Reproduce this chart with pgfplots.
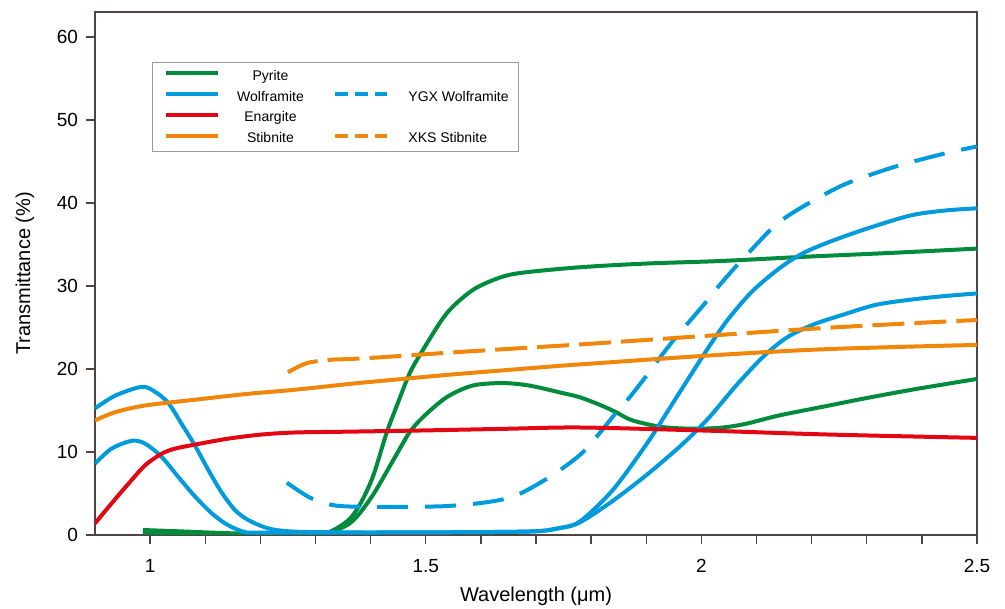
\documentclass[border=0pt]{standalone}
\usepackage{fontspec}
\setmainfont{Liberation Sans}
\usepackage{pgfplots}
\pgfplotsset{compat=1.18}
\definecolor{cgreen}{RGB}{0,140,60}
\definecolor{cblue}{RGB}{0,155,220}
\definecolor{cred}{RGB}{227,6,19}
\definecolor{corange}{RGB}{240,135,10}
\definecolor{axcol}{RGB}{80,68,66}
\begin{document}
\begin{tikzpicture}
\useasboundingbox (-47.5pt,-37pt) rectangle (455pt,267.5pt);
\begin{axis}[
  at={(0,0)}, anchor=south west,
  scale only axis, width=441pt, height=261.5pt,
  xmin=0.9, xmax=2.5, ymin=0, ymax=63,
  axis line style={draw=axcol, line width=0.7pt},
  tick style={draw=axcol, line width=0.7pt},
  tick align=outside, xtick pos=bottom, ytick pos=left,
  major tick length=4.5pt, minor tick length=4.5pt,
  xtick={1,1.5,2,2.5}, xticklabels={1,1.5,2,2.5},
  minor xtick={1.1,1.2,1.3,1.4,1.6,1.7,1.8,1.9,2.1,2.2,2.3,2.4},
  ytick={0,10,20,30,40,50,60},
  /pgf/number format/assume math mode=true,
  ticklabel style={font=\fontsize{9.5}{11}\selectfont},
  xticklabel style={anchor=base, yshift=-14.5pt},
  yticklabel style={anchor=east, xshift=-0.5pt},
  label style={font=\fontsize{8.5}{10}\selectfont},
  every axis x label/.style={at={(axis description cs:0.5,0)}, anchor=base, yshift=-33pt},
  every axis y label/.style={at={(axis description cs:-0.0794,0.5)}, rotate=90, anchor=center},
  xlabel={Wavelength (μm)},
  ylabel={Transmittance (\%)},
  legend columns=2,
  legend style={at={(axis description cs:0.0646,0.904)}, anchor=north west,
    draw=gray!80, line width=0.5pt, inner xsep=6pt, inner ysep=1.5pt,
    column sep=0pt, row sep=0pt,
    nodes={inner xsep=0pt, inner ysep=0pt, text height=7.3pt, text depth=3.1pt, font=\fontsize{7}{8}\selectfont}},
  legend image code/.code={\draw[#1] (0pt,1.5pt) -- (26pt,1.5pt);},
  every axis plot/.append style={line width=2pt, smooth, tension=0.5},
]
% Pyrite (steep)
\addplot[cgreen, forget plot] coordinates {
(0.987,0.6) (1.05,0.45) (1.15,0.2) (1.25,0.1) (1.31,0.15) (1.33,0.5) (1.36,1.8) (1.38,3.6) (1.404,7.0) (1.429,12.3) (1.45,16.0) (1.471,19.5) (1.495,22.3) (1.538,26.7) (1.585,29.5) (1.634,31.0) (1.676,31.6) (1.779,32.25) (1.9,32.7) (2.033,33.0) (2.183,33.5) (2.35,34.0) (2.5,34.5)};
% Pyrite (hump)
\addplot[cgreen, forget plot] coordinates {
(0.987,0.3) (1.1,0.15) (1.2,0.05) (1.3,0.1) (1.33,0.4) (1.36,1.3) (1.38,2.6) (1.404,4.8) (1.422,6.8) (1.453,10.4) (1.471,12.4) (1.495,14.2) (1.538,16.6) (1.585,18.0) (1.639,18.3) (1.688,18.0) (1.748,17.1) (1.779,16.6) (1.815,15.7) (1.845,14.8) (1.875,13.8) (1.93,13.0) (1.99,12.8) (2.039,12.95) (2.081,13.4) (2.141,14.4) (2.232,15.6) (2.292,16.4) (2.382,17.5) (2.5,18.8)};
% Wolframite A
\addplot[cblue, forget plot] coordinates {
(0.9,15.25) (0.937,16.8) (0.985,17.85) (1.009,17.25) (1.033,15.9) (1.057,13.4) (1.082,10.7) (1.105,7.9) (1.130,5.1) (1.154,3.0) (1.178,1.8) (1.214,0.8) (1.25,0.45) (1.3,0.35) (1.4,0.3) (1.6,0.35) (1.7,0.45) (1.74,0.8) (1.779,1.6) (1.839,5.4) (1.9,10.9) (1.936,14.6) (1.978,19.0) (2.021,23.4) (2.051,26.2) (2.093,29.4) (2.141,32.1) (2.183,33.9) (2.232,35.3) (2.3,36.9) (2.38,38.5) (2.444,39.1) (2.5,39.35)};
% Wolframite B
\addplot[cblue, forget plot] coordinates {
(0.9,8.6) (0.93,10.4) (0.967,11.35) (0.991,11.0) (1.021,9.4) (1.051,7.0) (1.082,4.6) (1.112,2.6) (1.141,1.2) (1.172,0.35) (1.2,0.3) (1.4,0.3) (1.6,0.35) (1.7,0.45) (1.74,0.8) (1.779,1.5) (1.839,4.1) (1.9,7.2) (1.96,10.6) (1.996,12.9) (2.02,14.6) (2.063,18.0) (2.111,21.4) (2.153,23.7) (2.201,25.3) (2.26,26.6) (2.322,27.8) (2.413,28.6) (2.5,29.1)};
% YGX Wolframite
\addplot[cblue, dash pattern=on 15.5pt off 8.5pt, forget plot] coordinates {
(1.248,6.3) (1.29,4.5) (1.332,3.6) (1.38,3.4) (1.471,3.4) (1.543,3.5) (1.616,4.0) (1.665,4.8) (1.725,7.0) (1.779,9.6) (1.812,12.0) (1.846,14.8) (1.87,16.6) (1.903,19.4) (1.924,21.3) (1.957,24.1) (1.978,25.7) (2.014,28.5) (2.033,30.1) (2.066,32.6) (2.09,34.3) (2.126,36.8) (2.156,38.4) (2.201,40.2) (2.262,42.3) (2.353,44.4) (2.444,46.0) (2.5,46.8)};
% Enargite
\addplot[cred, forget plot] coordinates {
(0.9,1.4) (0.93,3.8) (0.961,6.2) (0.991,8.4) (1.021,9.8) (1.045,10.4) (1.082,10.9) (1.141,11.6) (1.202,12.1) (1.263,12.35) (1.362,12.45) (1.5,12.6) (1.65,12.8) (1.779,12.95) (1.996,12.6) (2.232,12.1) (2.5,11.7)};
% Stibnite
\addplot[corange, forget plot] coordinates {
(0.9,13.8) (0.937,14.8) (0.991,15.6) (1.082,16.3) (1.172,16.97) (1.263,17.5) (1.362,18.2) (1.417,18.55) (1.55,19.35) (1.719,20.25) (1.779,20.55) (2.033,21.7) (2.232,22.4) (2.5,22.9)};
% XKS Stibnite
\addplot[corange, dash pattern=on 16pt off 5pt, forget plot] coordinates {
(1.25,19.6) (1.284,20.7) (1.326,21.1) (1.362,21.2) (1.417,21.4) (1.55,22.0) (1.719,22.7) (1.779,22.95) (2.033,24.1) (2.214,24.9) (2.35,25.4) (2.5,25.9)};
% legend
\addlegendimage{cgreen, line width=2pt}
\addlegendentry{\makebox[56.5pt][l]{\makebox[50pt]{Pyrite}}}
\addlegendimage{empty legend}
\addlegendentry{}
\addlegendimage{cblue, line width=2pt}
\addlegendentry{\makebox[56.5pt][l]{\makebox[50pt]{Wolframite}}}
\addlegendimage{cblue, line width=2pt, dash pattern=on 6.5pt off 3.5pt}
\addlegendentry{\makebox[58.5pt][l]{\hspace{9.5pt}YGX Wolframite}}
\addlegendimage{cred, line width=2pt}
\addlegendentry{\makebox[56.5pt][l]{\makebox[50pt]{Enargite}}}
\addlegendimage{empty legend}
\addlegendentry{}
\addlegendimage{corange, line width=2pt}
\addlegendentry{\makebox[56.5pt][l]{\makebox[50pt]{Stibnite}}}
\addlegendimage{corange, line width=2pt, dash pattern=on 6.5pt off 3.5pt}
\addlegendentry{\makebox[58.5pt][l]{\hspace{9.5pt}XKS Stibnite}}
\end{axis}
\end{tikzpicture}
\end{document}
